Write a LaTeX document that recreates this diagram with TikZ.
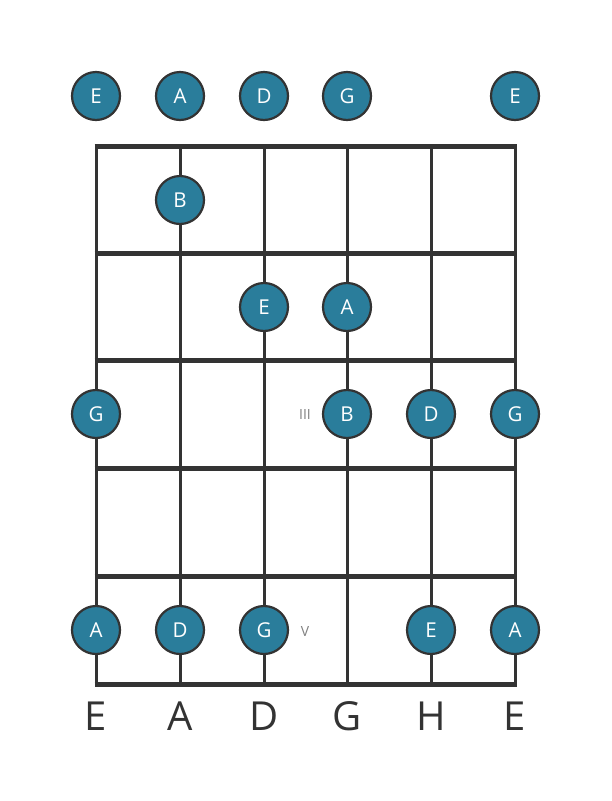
\documentclass[tikz,border=0pt]{standalone}
\usepackage{fontspec}
\setmainfont{Open Sans}
\definecolor{dotc}{HTML}{2A7D9B}
\definecolor{linec}{HTML}{333333}
\definecolor{graytxt}{HTML}{808080}
\begin{document}
\begin{tikzpicture}[x=1pt,y=-1pt,
  fret/.style={draw=linec,line width=5pt},
  strg/.style={draw=linec,line width=3pt},
  dot/.style={circle,fill=dotc,draw=linec,line width=2.2pt,minimum size=48pt,inner sep=0pt,text=white,font=\fontsize{20.5}{20.5}\selectfont},
  lbl/.style={font=\fontsize{40}{40}\selectfont,text=linec},
  fretmark/.style={font=\fontsize{14}{14}\selectfont,text=graytxt}]
\useasboundingbox (0,0) rectangle (611,801);
% strings
\foreach \i/\x in {1/96,2/180,3/264,4/347,5/431,6/515}{
  \coordinate (st\i) at (\x,146);
  \coordinate (sb\i) at (\x,684);
  \draw[strg] (st\i) -- (sb\i);
}
% frets
\foreach \j/\y in {0/146,1/253,2/360,3/468,4/576,5/684}{
  \coordinate (fl\j) at (94.5,\y);
  \coordinate (fr\j) at (516.5,\y);
  \draw[fret] (fl\j) -- (fr\j);
}
% open strings
\node[dot] (o1) at (96,96) {E};
\node[dot] (o2) at (180,96) {A};
\node[dot] (o3) at (264,96) {D};
\node[dot] (o4) at (347,96) {G};
\node[dot] (o6) at (515,96) {E};
% fret 1
\node[dot] (n21) at (180,200) {B};
% fret 2
\node[dot] (n32) at (264,307) {E};
\node[dot] (n42) at (347,307) {A};
% fret 3
\node[dot] (n13) at (96,414) {G};
\node[dot] (n43) at (347,414) {B};
\node[dot] (n53) at (431,414) {D};
\node[dot] (n63) at (515,414) {G};
% fret 5
\node[dot] (n15) at (96,630) {A};
\node[dot] (n25) at (180,630) {D};
\node[dot] (n35) at (264,630) {G};
\node[dot] (n55) at (431,630) {E};
\node[dot] (n65) at (515,630) {A};
% fret markers
\node[fretmark] (m3) at (305,414) {III};
\node[fretmark] (m5) at (305,631) {V};
% string labels
\node[lbl] (l1) at (96,716) {E};
\node[lbl] (l2) at (180,716) {A};
\node[lbl] (l3) at (264,716) {D};
\node[lbl] (l4) at (347,716) {G};
\node[lbl] (l5) at (431,716) {H};
\node[lbl] (l6) at (515,716) {E};
\end{tikzpicture}
\end{document}
